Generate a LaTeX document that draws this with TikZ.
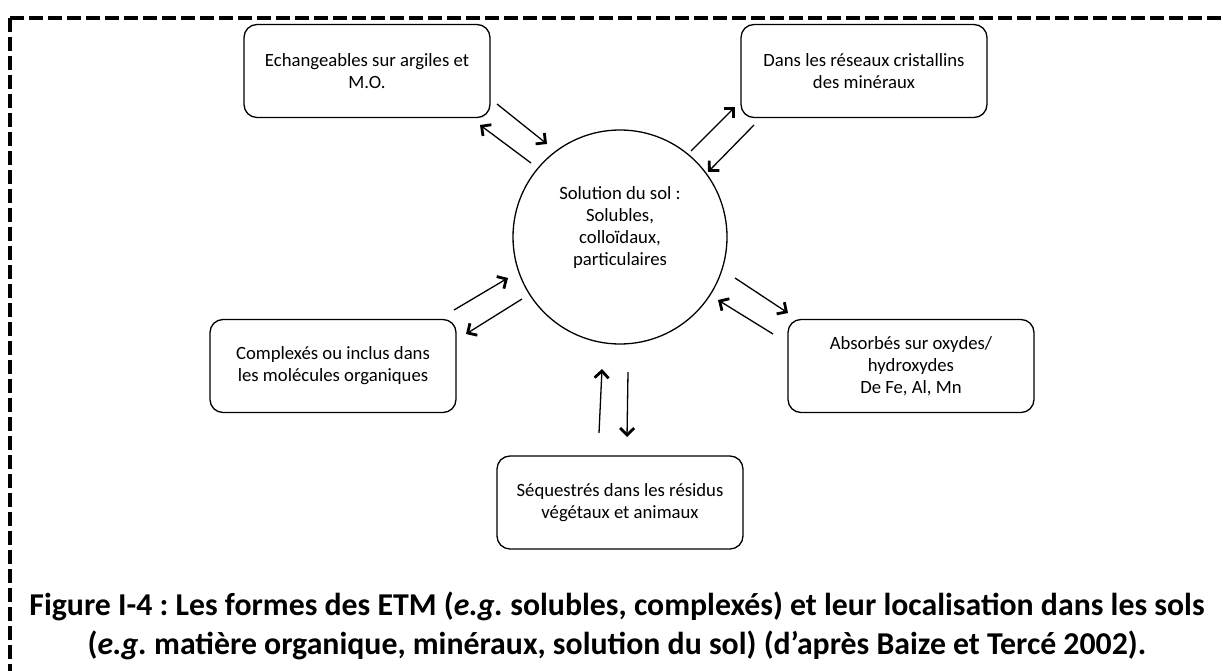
\documentclass[tikz,border=0pt]{standalone}
\usepackage{fontspec}
\setmainfont{Carlito}
\usetikzlibrary{arrows.meta}
\begin{document}
\frenchspacing
\begin{tikzpicture}[x=1pt,y=-1pt,
  boxnode/.style={draw, line width=1.3pt, rounded corners=13pt, align=center,
    font=\fontsize{18.7}{22}\selectfont, inner sep=4pt, minimum width=246pt, minimum height=93pt},
  solcircle/.style={draw, circle, line width=1.3pt, minimum size=214pt, inner sep=0pt},
  flow/.style={line width=1.3pt, -{Straight Barb[length=7pt,width=14pt,line width=2.8pt]}},
  border/.style={line width=4.5pt, dash pattern=on 14pt off 5pt},
  captionnode/.style={align=center, font=\fontsize{31.8}{39}\bfseries\selectfont}
]
\useasboundingbox (0,0) rectangle (1223,671);

% dashed frame (top and left sides visible)
\draw[border] (10,18) -- (1240,18);
\draw[border] (10,18) -- (10,690);

% nodes
\node[boxnode] (ech) at (367,71) {Echangeables sur argiles et\\M.O.};
\node[boxnode] (res) at (864,71) {Dans les réseaux cristallins\\des minéraux};
\node[boxnode] (cpx) at (333,366) {Complexés ou inclus dans\\les molécules organiques};
\node[boxnode] (abs) at (911,366) {Absorbés sur oxydes/\\hydroxydes\\De Fe, Al, Mn};
\node[boxnode] (seq) at (620,502.5) {Séquestrés dans les résidus\\végétaux et animaux};
\node[solcircle] (sol) at (620,237) {};
\node[align=center, font=\fontsize{18.7}{22}\selectfont] (soltext) at (620,228) {Solution du sol :\\Solubles,\\colloïdaux,\\particulaires};

% arrow end points
\coordinate (e1a) at (497,104); \coordinate (e1b) at (547,144);
\coordinate (e2a) at (531,163); \coordinate (e2b) at (480,125);
\coordinate (r1a) at (691,151); \coordinate (r1b) at (735,107);
\coordinate (r2a) at (754,125); \coordinate (r2b) at (708,172);
\coordinate (c1a) at (454,310); \coordinate (c1b) at (508,278);
\coordinate (c2a) at (522,299); \coordinate (c2b) at (466,334);
\coordinate (a1a) at (735,278); \coordinate (a1b) at (788,313);
\coordinate (a2a) at (773,334); \coordinate (a2b) at (718,300);
\coordinate (s1a) at (599,433); \coordinate (s1b) at (602,369);
\coordinate (s2a) at (628,372); \coordinate (s2b) at (627,437);

\draw[flow] (e1a) -- (e1b);
\draw[flow] (e2a) -- (e2b);
\draw[flow] (r1a) -- (r1b);
\draw[flow] (r2a) -- (r2b);
\draw[flow] (c1a) -- (c1b);
\draw[flow] (c2a) -- (c2b);
\draw[flow] (a1a) -- (a1b);
\draw[flow] (a2a) -- (a2b);
\draw[flow] (s1a) -- (s1b);
\draw[flow] (s2a) -- (s2b);

% caption
\node[captionnode] (cap) at (617,626) {Figure I-4 : Les formes des ETM (\textit{e.g.} solubles, complexés) et leur localisation dans les sols\\(\textit{e.g.} matière organique, minéraux, solution du sol) (d’après Baize et Tercé 2002).};
\end{tikzpicture}
\end{document}
